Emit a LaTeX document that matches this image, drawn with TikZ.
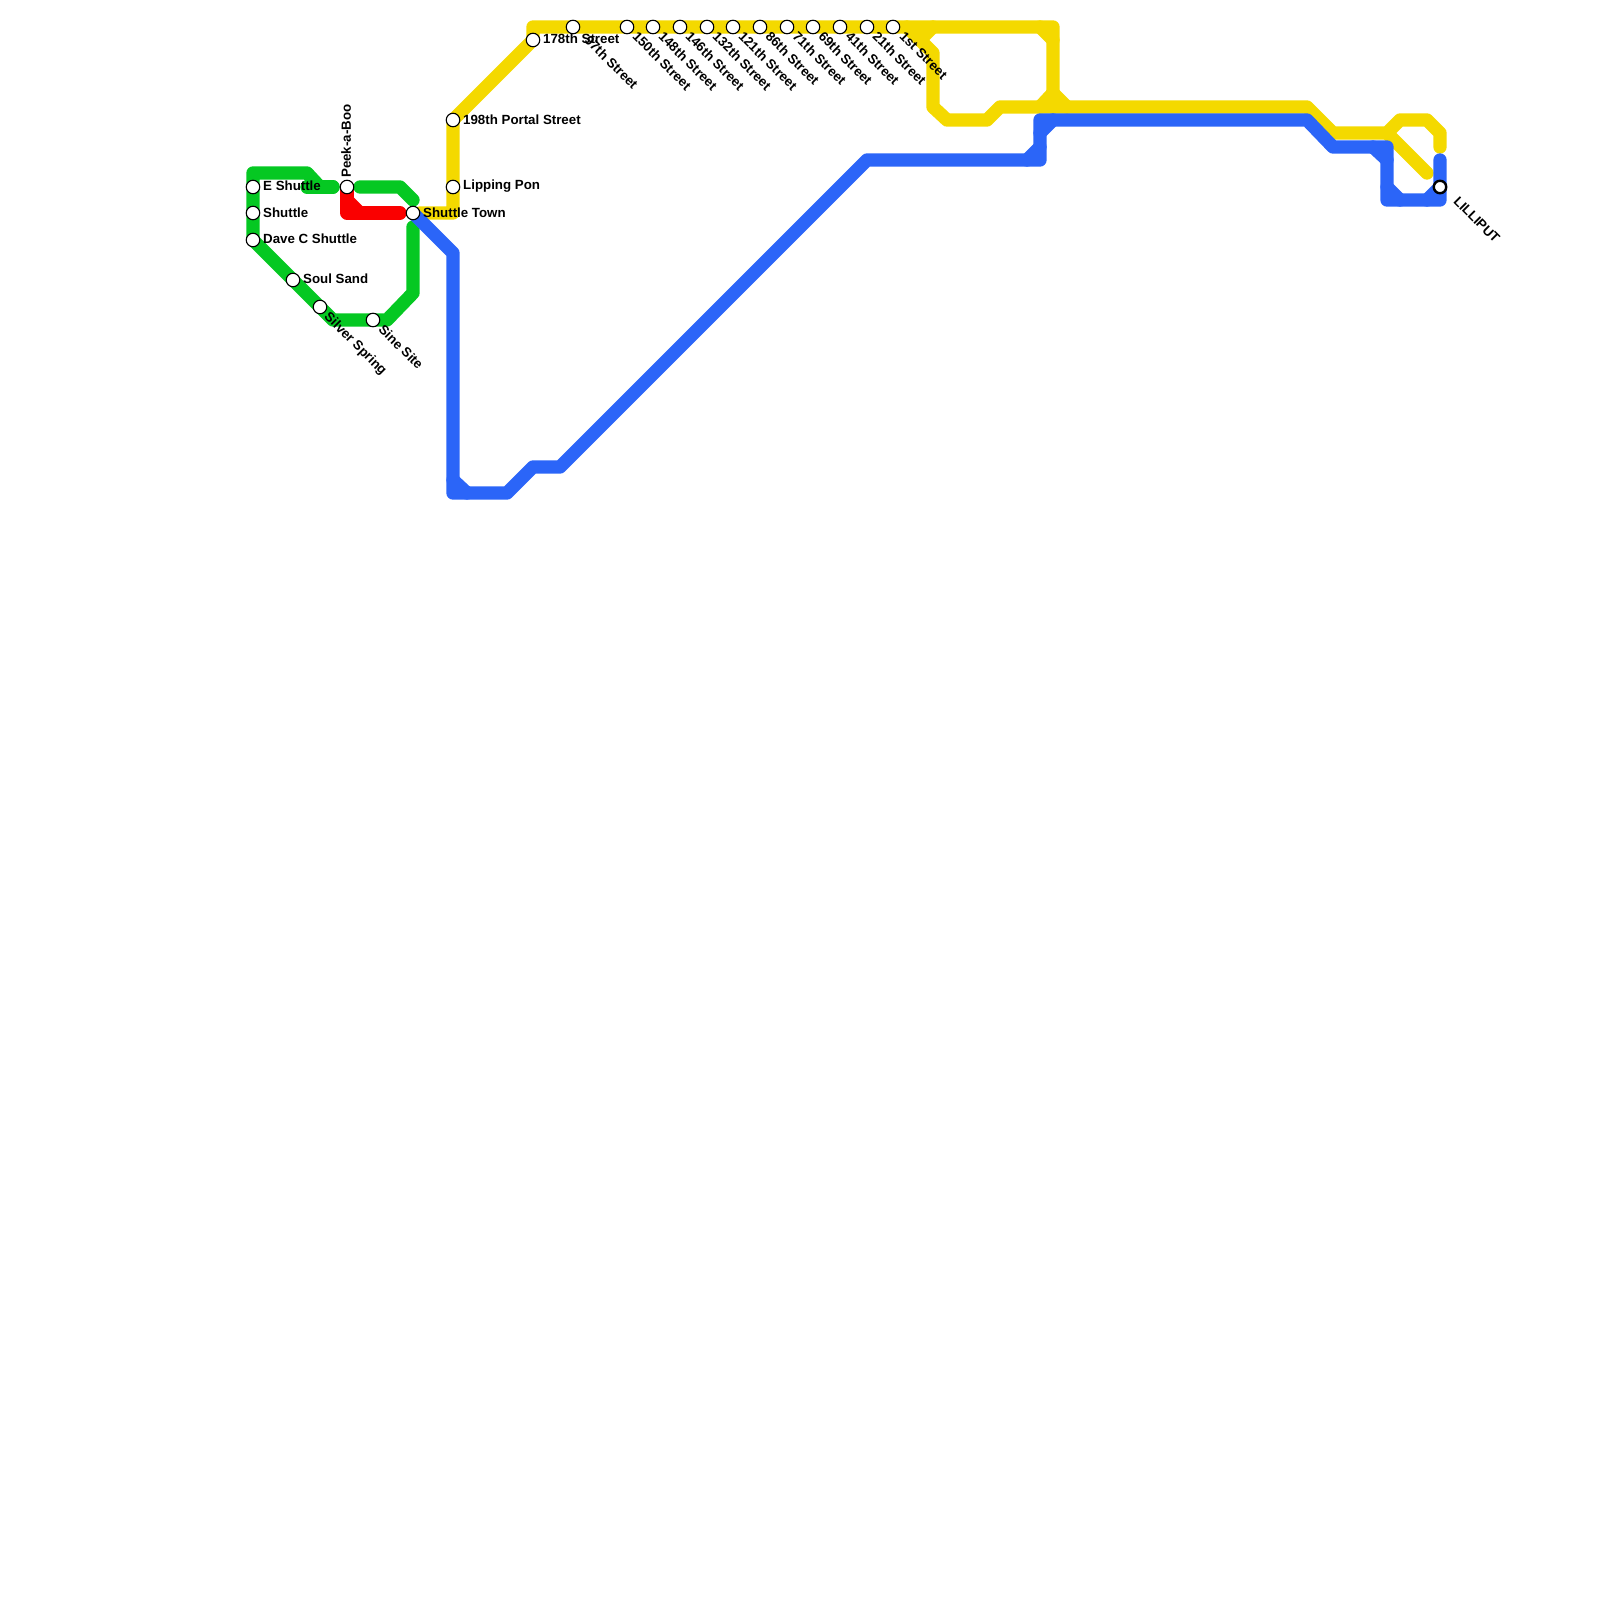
\documentclass[tikz,border=0pt]{standalone}
\usepackage{fontspec}
\setmainfont{Liberation Sans}
\pgfdeclarelayer{lines}
\pgfsetlayers{lines,main}
\definecolor{lgreen}{HTML}{05C822}
\definecolor{lred}{HTML}{FA0000}
\definecolor{lyellow}{HTML}{F4D900}
\definecolor{lblue}{HTML}{2B65F8}
\tikzset{
  x=1pt,y=-1pt,
  track/.style={line width=13.33pt,line cap=round,line join=round},
  stn/.style={circle,draw=black,fill=white,line width=1.1pt,minimum size=13.5pt,inner sep=0pt},
  bigstn/.style={stn,line width=2.4pt,minimum size=12.5pt},
  lab/.style={font=\bfseries\fontsize{13.3}{15}\selectfont,inner sep=0pt,text=black},
  labr/.style={lab,anchor=west},
  labd/.style={lab,anchor=west,rotate=-45},
}
\begin{document}
\begin{tikzpicture}
\useasboundingbox (0,0) rectangle (1600,1600);
% stations
\node[stn] (eshuttle) at (253,187) {};
\node[stn] (shuttle) at (253,213) {};
\node[stn] (davec) at (253,240) {};
\node[stn] (soul) at (293,280) {};
\node[stn] (silver) at (320,307) {};
\node[stn] (peek) at (347,187) {};
\node[stn] (sine) at (373,320) {};
\node[stn] (town) at (413,213) {};
\node[stn] (portal) at (453,120) {};
\node[stn] (lipping) at (453,187) {};
\node[stn] (s178) at (533,40) {};
\node[stn] (s97) at (573,27) {};
\node[stn] (s150) at (627,27) {};
\node[stn] (s148) at (653,27) {};
\node[stn] (s146) at (680,27) {};
\node[stn] (s132) at (707,27) {};
\node[stn] (s121) at (733,27) {};
\node[stn] (s86) at (760,27) {};
\node[stn] (s71) at (787,27) {};
\node[stn] (s69) at (813,27) {};
\node[stn] (s41) at (840,27) {};
\node[stn] (s21) at (867,27) {};
\node[stn] (s1) at (893,27) {};
\node[bigstn] (lilli) at (1440,187) {};
% free line ends
\coordinate (gA) at (333,187);
\coordinate (gB) at (360,187);
\coordinate (gC) at (413,227);
\coordinate (rA) at (400,213);
\coordinate (yA) at (420,213);
\coordinate (yB) at (1427,173);
\coordinate (yC) at (1440,147);
\coordinate (bA) at (1440,160);
% labels
\node[labr] at (263,186) {E Shuttle};
\node[labr] at (263,213) {Shuttle};
\node[labr] at (263,239) {Dave C Shuttle};
\node[labr] at (303,279) {Soul Sand};
\node[labd] at (326,315) {Silver Spring};
\node[labd] at (381,327) {Sine Site};
\node[lab,anchor=west,rotate=90] at (346,178) {Peek-a-Boo};
\node[labr] at (423,213) {Shuttle Town};
\node[labr] at (463,120) {198th Portal Street};
\node[labr] at (463,186) {Lipping Pon};
\node[labr] at (543,39) {178th Street};
\node[labd] at (587,38) {97th Street};
\node[labd] at (635,34) {150th Street};
\node[labd] at (661,34) {148th Street};
\node[labd] at (688,34) {146th Street};
\node[labd] at (715,34) {132th Street};
\node[labd] at (741,34) {121th Street};
\node[labd] at (768,34) {86th Street};
\node[labd] at (795,34) {71th Street};
\node[labd] at (821,34) {69th Street};
\node[labd] at (848,34) {41th Street};
\node[labd] at (875,34) {21th Street};
\node[labd] at (902,34) {1st Street};
\node[lab,anchor=west,rotate=-45] at (1456,199) {LILLIPUT};
% lines
\begin{pgfonlayer}{lines}
\draw[track,lgreen] (gA) -- (320,187) -- (307,173) -- (253,173) -- (eshuttle.center) -- (shuttle.center) -- (davec.center) -- (soul.center) -- (silver.center) -- (333,320) -- (sine.center) -- (387,320) -- (413,293) -- (gC);
\draw[track,lgreen] (307,187) -- (gA);
\draw[track,lgreen] (gB) -- (400,187) -- (413,200);
\draw[track,lred] (peek.center) -- (347,213) -- (rA);
\draw[track,lred] (347,200) -- (360,213);
\draw[track,lyellow] (yA) -- (453,213) -- (lipping.center) -- (portal.center) -- (s178.center) -- (533,27) -- (s97.center) -- (s1.center) -- (1053,27) -- (1053,107);
\draw[track,lyellow] (907,27) -- (933,53) -- (933,107) -- (947,120) -- (987,120) -- (1000,107) -- (1307,107) -- (1333,133) -- (1387,133) -- (1400,120) -- (1427,120) -- (1440,133) -- (yC);
\draw[track,lyellow] (933,27) -- (920,40);
\draw[track,lyellow] (1040,27) -- (1053,40);
\draw[track,lyellow] (1040,107) -- (1053,93) -- (1067,107);
\draw[track,lyellow] (1387,133) -- (yB);
\draw[track,lblue] (town.center) -- (453,253) -- (453,493) -- (507,493) -- (533,467) -- (560,467) -- (867,160) -- (1040,160) -- (1040,120) -- (1307,120) -- (1333,147) -- (1387,147) -- (1387,200) -- (1440,200) -- (lilli.center) -- (bA);
\draw[track,lblue] (453,480) -- (467,493);
\draw[track,lblue] (1027,160) -- (1040,147);
\draw[track,lblue] (1040,133) -- (1053,120);
\draw[track,lblue] (1373,147) -- (1387,160);
\draw[track,lblue] (1387,187) -- (1400,200);
\draw[track,lblue] (1427,200) -- (1440,187);
\end{pgfonlayer}
\end{tikzpicture}
\end{document}
